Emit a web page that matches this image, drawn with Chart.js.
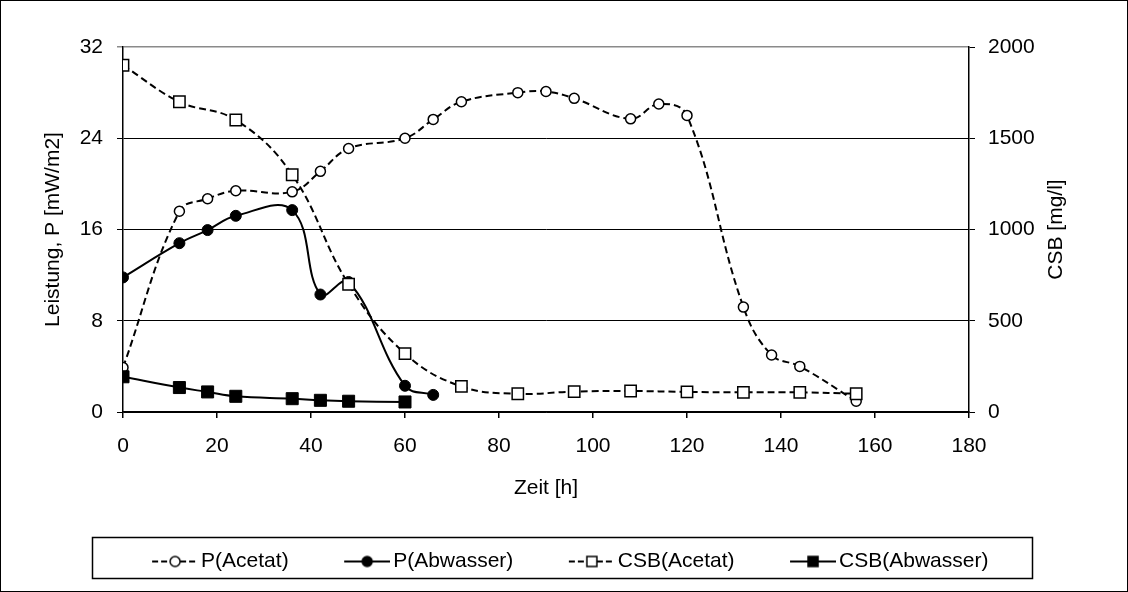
<!DOCTYPE html>
<html><head><meta charset="utf-8">
<script src="https://cdn.jsdelivr.net/npm/chart.js@4/dist/chart.umd.min.js"></script>
<style>html,body{margin:0;padding:0;background:#fff}#wrap{width:1128px;height:592px}</style>
</head><body><div id="wrap"><canvas id="c" width="1128" height="592"></canvas></div>
<script>
// ---- data ----
const timePAcetat = [0,12,18,24,36,42,48,60,66,72,84,90,96,108,114,120,132,138,144,156];
const pAcetat     = [3.9,17.6,18.7,19.4,19.3,21.1,23.1,24.0,25.65,27.2,28.0,28.1,27.5,25.7,27.0,26.0,9.2,5.0,4.0,0.95];
const timePAbwasser = [0,12,18,24,36,42,48,60,66];
const pAbwasser     = [11.8,14.8,15.95,17.2,17.7,10.3,11.4,2.3,1.5];
const timeCsbAcetat = [0,12,24,36,48,60,72,84,96,108,120,132,144,156];
const csbAcetat     = [1900,1700,1600,1300,700,320,140,100,112,115,110,108,108,100];
const timeCsbAbwasser = [0,12,18,24,36,42,48,60];
const csbAbwasser     = [193,134,110,86,73,64,59,55];
const seriesNames = ['P(Acetat)','P(Abwasser)','CSB(Acetat)','CSB(Abwasser)'];
const xTickValues = [0,20,40,60,80,100,120,140,160,180];
const leftTickValues = [0,8,16,24,32];
const rightTickValues = [0,500,1000,1500,2000];
const xTitle = 'Zeit [h]';
const leftTitle = 'Leistung, P [mW/m2]';
const rightTitle = 'CSB [mg/l]';

const FONT = '"Liberation Sans", Arial, sans-serif';
const FS = 21;
const LEG_PAD = 43;
const LEG_BOX = 51;

function pts(xs, ys){ return xs.map((x,i)=>({x:x, y:ys[i]})); }

function legendImg(dashed, filled, shape){
  const W = LEG_BOX + 15, H = 22, M = 46;
  const c = document.createElement('canvas'); c.width = W; c.height = H;
  const g = c.getContext('2d');
  const x0 = W - M, x1 = W, cy = H/2, cx = (x0 + x1)/2;
  g.strokeStyle = '#000'; g.lineWidth = 2;
  if (dashed) {
    g.setLineDash([6,3]);
    g.beginPath(); g.moveTo(x0, cy); g.lineTo(cx - 5, cy); g.stroke();
    g.beginPath(); g.moveTo(cx + 5, cy); g.lineTo(x1, cy); g.stroke();
  } else {
    g.beginPath(); g.moveTo(x0, cy); g.lineTo(x1, cy); g.stroke();
  }
  g.setLineDash([]);
  g.lineWidth = 1.5; g.fillStyle = filled ? '#000' : '#fff';
  g.beginPath();
  if (shape === 'circle') g.arc(cx, cy, 5, 0, Math.PI*2); else g.rect(cx-5, cy-5, 10, 10);
  g.fill(); g.stroke();
  return c;
}
const legendImgs = [
  legendImg(true,false,'circle'),
  legendImg(false,true,'circle'),
  legendImg(true,false,'rect'),
  legendImg(false,true,'rect')
];

const framePlugin = {
  id: 'frame',
  afterDraw(chart){
    const ctx = chart.ctx;
    ctx.save();
    ctx.strokeStyle = '#000';
    ctx.lineWidth = 1;
    ctx.strokeRect(0.5, 0.5, chart.width - 1, chart.height - 1);
    // legend box
    const lg = chart.legend;
    const cy = lg.top + LEG_PAD + FS/2;
    ctx.lineWidth = 1.5;
    ctx.strokeRect(92.5, Math.round(cy - 25) + 0.5, 940, 41);
    // right axis title (reads bottom-to-top)
    const a = chart.chartArea;
    ctx.translate(chart.scales.y1.right - 72, (a.top + a.bottom)/2);
    ctx.rotate(-Math.PI/2);
    ctx.font = FS + 'px ' + FONT;
    ctx.fillStyle = '#000';
    ctx.textAlign = 'center';
    ctx.textBaseline = 'middle';
    ctx.fillText(rightTitle, 0, 0);
    ctx.restore();
  }
};

const dashed = [7,4];
new Chart(document.getElementById('c'), {
  type: 'line',
  data: {
    datasets: [
      { label: seriesNames[0], data: pts(timePAcetat, pAcetat), yAxisID: 'y', order: 4,
        borderColor: '#000', borderWidth: 2, borderDash: dashed, tension: 0.4,
        pointStyle: 'circle', pointRadius: 5, pointBackgroundColor: '#fff', pointBorderColor: '#000', pointBorderWidth: 1.5 },
      { label: seriesNames[1], data: pts(timePAbwasser, pAbwasser), yAxisID: 'y', order: 3,
        borderColor: '#000', borderWidth: 2, tension: 0.4,
        pointStyle: 'circle', pointRadius: 5.5, pointBackgroundColor: '#000', pointBorderColor: '#000', pointBorderWidth: 1 },
      { label: seriesNames[2], data: pts(timeCsbAcetat, csbAcetat), yAxisID: 'y1', order: 2,
        borderColor: '#000', borderWidth: 2, borderDash: dashed, tension: 0.4,
        pointStyle: 'rect', pointRadius: 8, pointBackgroundColor: '#fff', pointBorderColor: '#000', pointBorderWidth: 1.5 },
      { label: seriesNames[3], data: pts(timeCsbAbwasser, csbAbwasser), yAxisID: 'y1', order: 1,
        borderColor: '#000', borderWidth: 2, tension: 0.4,
        pointStyle: 'rect', pointRadius: 8.5, pointBackgroundColor: '#000', pointBorderColor: '#000', pointBorderWidth: 1 }
    ]
  },
  options: {
    responsive: false, animation: false, devicePixelRatio: 1,
    layout: { padding: { top: 47, bottom: 10, left: 0, right: 0 } },
    plugins: {
      tooltip: { enabled: false },
      legend: {
        position: 'bottom',
        labels: {
          usePointStyle: true, pointStyleWidth: LEG_BOX, padding: LEG_PAD,
          color: '#000', font: { family: FONT, size: FS },
          generateLabels(chart){
            const items = Chart.defaults.plugins.legend.labels.generateLabels(chart);
            items.sort((a,b)=>a.datasetIndex-b.datasetIndex);
            items.forEach(it => { it.pointStyle = legendImgs[it.datasetIndex]; });
            return items;
          }
        }
      }
    },
    scales: {
      x: {
        type: 'linear', min: 0, max: 180,
        afterFit(s){ s.height = 96; },
        afterBuildTicks(s){ s.ticks = xTickValues.map(v=>({value:v})); },
        grid: { drawOnChartArea: false, color: '#000', tickLength: 6, lineWidth: 1.5 },
        border: { color: '#000', width: 1.5 },
        ticks: { color: '#000', padding: 16, font: { family: FONT, size: FS }, maxRotation: 0 },
        title: { display: true, text: xTitle, color: '#000', font: { family: FONT, size: FS }, padding: { top: 0, bottom: 7 } }
      },
      y: {
        position: 'left', min: 0, max: 32,
        afterFit(s){ s.width = 123; },
        afterBuildTicks(s){ s.ticks = leftTickValues.map(v=>({value:v})); },
        grid: { color: (c) => (c.tick && c.tick.value === 32) ? '#8a8a8a' : '#000', lineWidth: (c) => (c.tick && c.tick.value === 32) ? 1.5 : 1, tickLength: 6 },
        border: { color: '#000', width: 1.5 },
        ticks: { color: '#000', padding: 14, font: { family: FONT, size: FS } },
        title: { display: true, text: leftTitle, color: '#000', font: { family: FONT, size: FS }, padding: { top: 41, bottom: 0 } }
      },
      y1: {
        position: 'right', min: 0, max: 2000,
        afterFit(s){ s.width = 159; },
        afterBuildTicks(s){ s.ticks = rightTickValues.map(v=>({value:v})); },
        grid: { drawOnChartArea: false, color: '#000', lineWidth: 1, tickLength: 6 },
        border: { color: '#000', width: 1.5 },
        ticks: { color: '#000', padding: 13, font: { family: FONT, size: FS }, callback: (v) => String(v) }
      }
    }
  },
  plugins: [framePlugin]
});
</script>
</body></html>
